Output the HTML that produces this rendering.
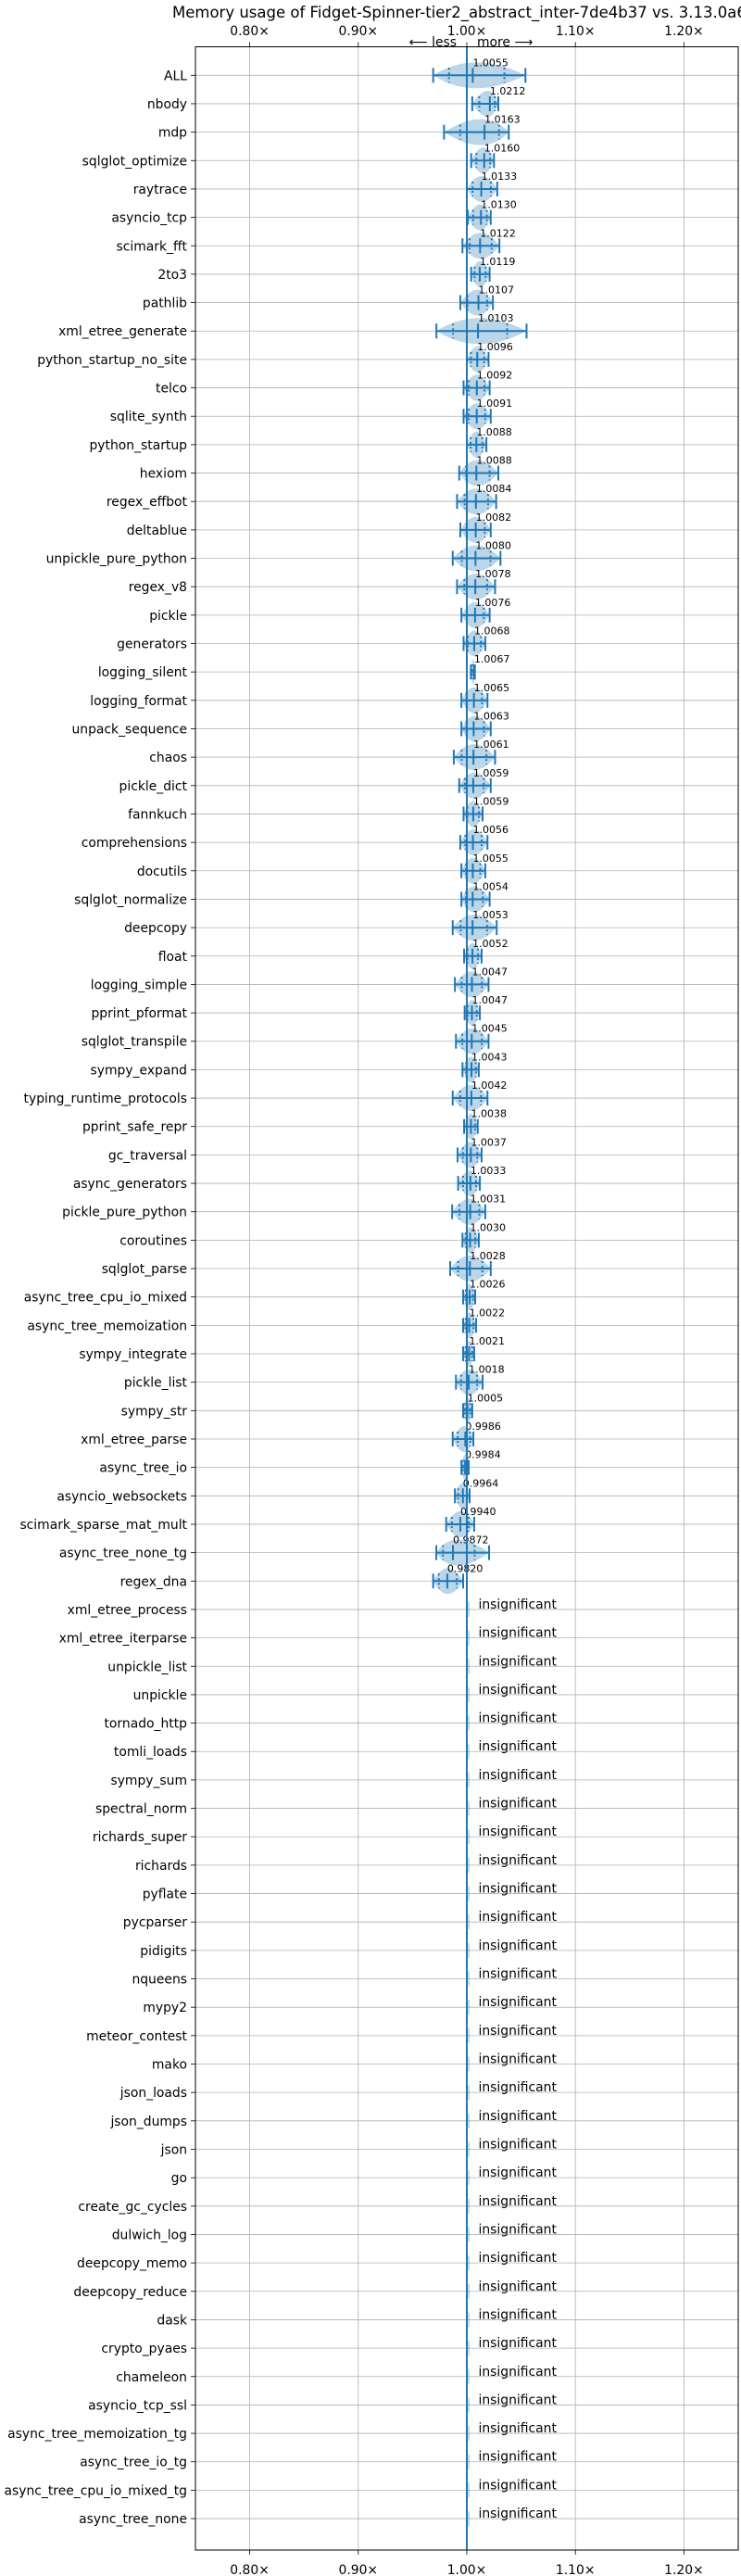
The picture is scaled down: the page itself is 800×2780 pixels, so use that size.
<!DOCTYPE html>
<html><head><meta charset="utf-8">
<style>
html,body{margin:0;padding:0;background:#fff;}
svg{display:block;font-family:"DejaVu Sans","Liberation Sans",sans-serif;}
</style></head>
<body>
<svg id="chart" width="800" height="2780" viewBox="0 0 800 2780" xmlns="http://www.w3.org/2000/svg"></svg>
<script>
const benchmarks = ["ALL","nbody","mdp","sqlglot_optimize","raytrace","asyncio_tcp","scimark_fft","2to3","pathlib","xml_etree_generate","python_startup_no_site","telco","sqlite_synth","python_startup","hexiom","regex_effbot","deltablue","unpickle_pure_python","regex_v8","pickle","generators","logging_silent","logging_format","unpack_sequence","chaos","pickle_dict","fannkuch","comprehensions","docutils","sqlglot_normalize","deepcopy","float","logging_simple","pprint_pformat","sqlglot_transpile","sympy_expand","typing_runtime_protocols","pprint_safe_repr","gc_traversal","async_generators","pickle_pure_python","coroutines","sqlglot_parse","async_tree_cpu_io_mixed","async_tree_memoization","sympy_integrate","pickle_list","sympy_str","xml_etree_parse","async_tree_io","asyncio_websockets","scimark_sparse_mat_mult","async_tree_none_tg","regex_dna"];
const means = [1.0055,1.0212,1.0163,1.0160,1.0133,1.0130,1.0122,1.0119,1.0107,1.0103,1.0096,1.0092,1.0091,1.0088,1.0088,1.0084,1.0082,1.0080,1.0078,1.0076,1.0068,1.0067,1.0065,1.0063,1.0061,1.0059,1.0059,1.0056,1.0055,1.0054,1.0053,1.0052,1.0047,1.0047,1.0045,1.0043,1.0042,1.0038,1.0037,1.0033,1.0031,1.0030,1.0028,1.0026,1.0022,1.0021,1.0018,1.0005,0.9986,0.9984,0.9964,0.9940,0.9872,0.9820];
const mins = [0.969,1.005,0.979,1.004,1.000,1.001,0.996,1.004,0.994,0.972,1.000,0.997,0.997,1.000,0.993,0.991,0.994,0.987,0.991,0.995,0.997,1.0037,0.995,0.995,0.988,0.993,0.997,0.994,0.995,0.995,0.987,0.9975,0.989,0.998,0.990,0.996,0.987,0.9975,0.9915,0.992,0.9865,0.996,0.9847,0.9966,0.9966,0.9966,0.990,0.9966,0.987,0.995,0.989,0.981,0.9719,0.969];
const maxs = [1.054,1.029,1.0386,1.025,1.028,1.022,1.030,1.021,1.024,1.055,1.020,1.021,1.022,1.018,1.029,1.027,1.022,1.031,1.026,1.021,1.017,1.0074,1.019,1.022,1.026,1.022,1.0145,1.019,1.017,1.021,1.0275,1.0136,1.020,1.012,1.020,1.011,1.019,1.010,1.0136,1.012,1.017,1.011,1.022,1.0077,1.0085,1.0068,1.0145,1.005,1.006,1.0017,1.0026,1.0068,1.0205,0.9966];
const insignificant = ["xml_etree_process","xml_etree_iterparse","unpickle_list","unpickle","tornado_http","tomli_loads","sympy_sum","spectral_norm","richards_super","richards","pyflate","pycparser","pidigits","nqueens","mypy2","meteor_contest","mako","json_loads","json_dumps","json","go","create_gc_cycles","dulwich_log","deepcopy_memo","deepcopy_reduce","dask","crypto_pyaes","chameleon","asyncio_tcp_ssl","async_tree_memoization_tg","async_tree_io_tg","async_tree_cpu_io_mixed_tg","async_tree_none"];
const xTicks = [0.80,0.90,1.00,1.10,1.20];
const xTickLabels = ["0.80×","0.90×","1.00×","1.10×","1.20×"];

const NS = "http://www.w3.org/2000/svg";
const svg = document.getElementById('chart');
const L = 211, R = 797, T = 50.5, B = 2752;
const X0 = 0.75, X1 = 1.25;
function xs(v){ return L + (v - X0) / (X1 - X0) * (R - L); }
function ys(i){ return 81.3 + i * 30.66; }
function el(tag, attrs, parent){
  const e = document.createElementNS(NS, tag);
  for (const k in attrs) e.setAttribute(k, attrs[k]);
  (parent || svg).appendChild(e);
  return e;
}
const BLUE = "#1f77b4";
const allNames = benchmarks.concat(insignificant);

// grid
const grid = el('g', {});


xTicks.forEach((t, k) => {
  const g = el('line', {x1: xs(t), x2: xs(t), y1: T, y2: B, stroke: "#b0b0b0", "stroke-width": 0.8}, grid);
  
  
});
allNames.forEach((n, i) => {
  const g = el('line', {x1: L, x2: R, y1: ys(i), y2: ys(i), stroke: "#b0b0b0", "stroke-width": 0.8}, grid);
  
  
});

// title
const title = el('text', {x: 186, y: 19, "font-size": 16.5, fill: "#000"});
title.textContent = "Memory usage of Fidget-Spinner-tier2_abstract_inter-7de4b37 vs. 3.13.0a6";



// x ticks top & bottom
xTicks.forEach((t, k) => {
  const tt = el('text', {x: xs(t), y: 38, "font-size": 13.9, "text-anchor": "middle"});
  tt.textContent = xTickLabels[k];
  
  
  const tb = el('text', {x: xs(t), y: 2778, "font-size": 13.9, "text-anchor": "middle"});
  tb.textContent = xTickLabels[k];
  
  
  const m1 = el('line', {x1: xs(t), x2: xs(t), y1: T - 5, y2: T, stroke: "#000", "stroke-width": 0.8});
  
  
  const m2 = el('line', {x1: xs(t), x2: xs(t), y1: B, y2: B + 5, stroke: "#000", "stroke-width": 0.8});
  
  
});
const less = el('text', {x: 493, y: 50, "font-size": 13.9, "text-anchor": "end"});
less.textContent = "⟵ less";


const more = el('text', {x: 515, y: 50, "font-size": 13.9});
more.textContent = "more ⟶";



// y labels
allNames.forEach((n, i) => {
  const t = el('text', {x: 202, y: ys(i) + 5, "font-size": 13.9, "text-anchor": "end"});
  t.textContent = n;
  
  
  const m = el('line', {x1: L - 5, x2: L, y1: ys(i), y2: ys(i), stroke: "#000", "stroke-width": 0.8});
  
  
});

// significant benchmarks
benchmarks.forEach((n, i) => {
  const y = ys(i), a = xs(mins[i]), b = xs(maxs[i]), m = xs(means[i]);
  const g = el('g', {});
  
  
  const h = 14;
  const v = el('path', {d: `M${a},${y} Q${m},${y - 2*h} ${b},${y} Q${m},${y + 2*h} ${a},${y} Z`, fill: BLUE, "fill-opacity": 0.3}, g);
  
  
  const ln = el('line', {x1: a, x2: b, y1: y, y2: y, stroke: BLUE, "stroke-width": 2}, g);
  
  
  [a, b].forEach(px => {
    const c = el('line', {x1: px, x2: px, y1: y - 8, y2: y + 8, stroke: BLUE, "stroke-width": 2}, g);
    
    
  });
  const mt = el('line', {x1: m, x2: m, y1: y - 8, y2: y + 8, stroke: BLUE, "stroke-width": 2}, g);
  
  
  [m - (m - a) * 0.6, m + (b - m) * 0.6].forEach(px => {
    const q = el('line', {x1: px, x2: px, y1: y - 8, y2: y + 8, stroke: BLUE, "stroke-width": 2, "stroke-dasharray": "2,3"}, g);
    
    
  });
  const t = el('text', {x: m, y: y - 10, "font-size": 11}, g);
  t.textContent = means[i].toFixed(4);
  
  
});

// insignificant
insignificant.forEach((n, k) => {
  const i = benchmarks.length + k, y = ys(i);
  const v = el('rect', {x: xs(1.0) - 1, y: y - 8, width: 4, height: 16, fill: BLUE, "fill-opacity": 0.25});
  
  
  const t = el('text', {x: 516.5, y: y - 1, "font-size": 13.9});
  t.textContent = "insignificant";
  
  
});

// baseline at 1.00
const base = el('line', {x1: xs(1.0), x2: xs(1.0), y1: T, y2: B, stroke: BLUE, "stroke-width": 2});



// frame
const frame = el('rect', {x: L, y: T, width: R - L, height: B - T, fill: "none", stroke: "#000", "stroke-width": 1});


</script>
</body></html>
